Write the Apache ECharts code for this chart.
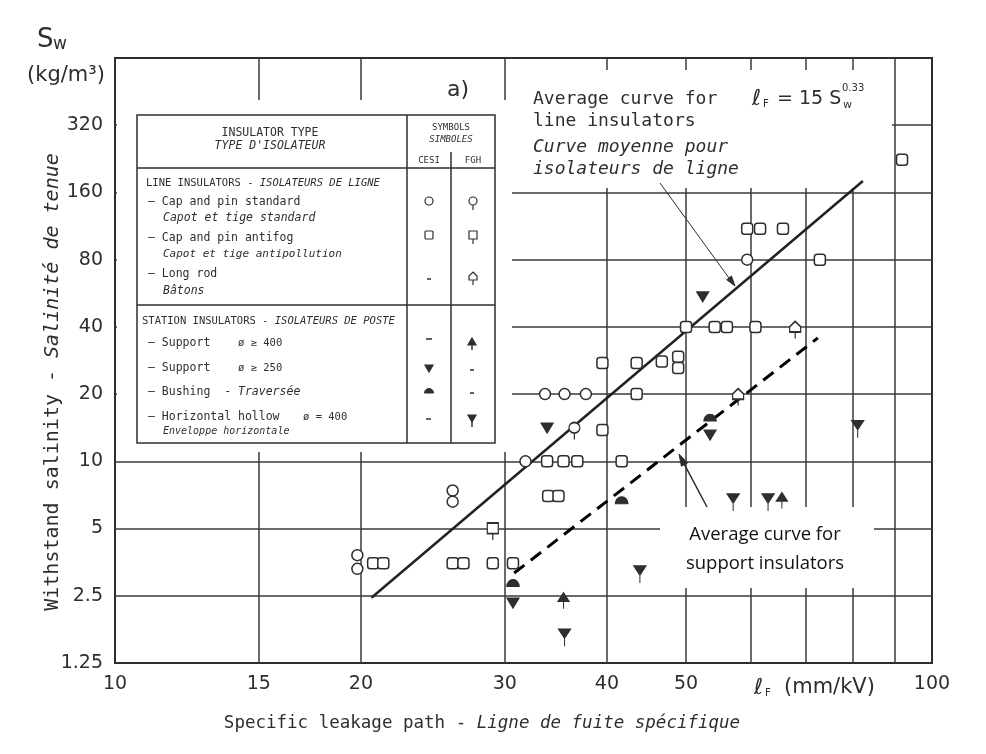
<!DOCTYPE html>
<html>
<head>
<meta charset="utf-8">
<title>Withstand salinity - specific leakage path</title>
<script src="https://cdn.jsdelivr.net/npm/echarts@6.0.0/dist/echarts.min.js"></script>
<style>
  html, body { margin: 0; padding: 0; background: #fff; }
  #chart { width: 986px; height: 754px; }
</style>
</head>
<body>
<div id="chart"></div>
<script>
"use strict";

// grid lines and tick labels
var xGridValues = [15, 20, 30, 40, 50, 60, 70, 80, 90];
var xLabelValues = [10, 15, 20, 30, 40, 50, 100];
var yGridValues = [2.5, 5, 10, 20, 40, 80, 160, 320];
var yLabelValues = [1.25, 2.5, 5, 10, 20, 40, 80, 160, 320];

// points: [specific leakage path (mm/kV), withstand salinity (kg/m3)]
// line insulators
var capPinStdCesi = [[19.8, 3.8], [19.8, 3.3], [25.9, 7.4], [25.9, 6.6], [31.8, 10],
  [33.6, 20], [35.5, 20], [37.7, 20], [59.4, 80]];
var capPinStdFgh = [[36.5, 14.1]];
var capPinAntifogCesi = [[20.7, 3.5], [21.3, 3.5], [25.9, 3.5], [26.7, 3.5], [29.0, 3.5], [30.7, 3.5],
  [33.9, 7], [34.9, 7], [33.8, 10], [35.4, 10], [36.8, 10], [41.7, 10], [39.5, 13.8], [43.5, 20],
  [39.5, 27.6], [43.5, 27.6], [46.7, 28], [48.9, 29.4], [48.9, 26.2],
  [50, 40], [54.2, 40], [56.1, 40], [60.8, 40], [72.9, 80],
  [59.4, 110], [61.6, 110], [65.7, 110], [91.9, 224]];
var capPinAntifogFgh = [[29.0, 5]];
var longRodFgh = [[57.9, 20], [68.0, 40]];
// station insulators
var support400Fgh = [[35.4, 2.44], [65.5, 6.85]];
var support250Cesi = [[30.7, 2.32], [33.8, 14.1], [53.5, 13.1], [52.4, 54.5]];
var bushingCesi = [[30.7, 2.85], [41.7, 6.7], [53.5, 15.7]];
var horizHollowFgh = [[35.5, 1.7], [43.9, 3.26], [57.1, 6.85], [63.0, 6.85], [81.1, 14.6]];

// average curves
var lineAvgCurve = [[20.6, 2.45], [82.3, 180]];
var supportAvgCurve = [[30.8, 3.16], [72.5, 35.7]];

var INK = "#2e2e2e";
var FONT = "DejaVu Sans";
var MONO = "DejaVu Sans Mono";

var PATHS = {
  circleStem: "M5,0 A5,5 0 1,1 5,10 A5,5 0 1,1 5,0 Z M5,10 L5,16",
  squareStem: "M0,0 L10,0 L10,10 L0,10 Z M5,10 L5,16",
  rodStem: "M5,0 L10,5 L10,10 L0,10 L0,5 Z M5,10 L5,16",
  triUpStem: "M5,0 L10,8 L0,8 Z M5,8 L5,15",
  triDownStem: "M0,0 L10,0 L5,8 Z M5,8 L5,15",
  triDown: "M0,0 L10,0 L5,8 Z",
  dome: "M0,6 A5,5 0 0,1 10,6 Z"
};

function scatter(name, data, symbol, size, offset, filled) {
  return {
    name: name,
    type: "scatter",
    data: data,
    symbol: symbol,
    symbolSize: size,
    symbolOffset: offset || [0, 0],
    itemStyle: {
      color: filled ? INK : "#fff",
      borderColor: INK,
      borderWidth: filled ? 1.2 : 1.5,
      opacity: 1
    },
    emphasis: { disabled: true },
    z: 4
  };
}

// ---------- annotations / legend table ----------
var els = [];

function txt(x, y, s, size, opt) {
  opt = opt || {};
  els.push({
    type: "text", x: x, y: y, z: 5, rotation: opt.rotation || 0,
    style: {
      text: s, fontSize: size, fontFamily: opt.family || FONT,
      fontStyle: opt.italic ? "italic" : "normal",
      fill: opt.color || INK, align: opt.align || "left", verticalAlign: "middle",
      rich: opt.rich
    }
  });
}

function ln(x1, y1, x2, y2, w) {
  els.push({ type: "line", z: 5, shape: { x1: x1, y1: y1, x2: x2, y2: y2 },
    style: { stroke: INK, lineWidth: w || 1.5 } });
}

function whiteBox(x, y, w, h) {
  els.push({ type: "rect", z: 1, shape: { x: x, y: y, width: w, height: h },
    style: { fill: "#fff" } });
}

function poly(pts, hx, hy, filled) {
  els.push({ type: "polygon", z: 5,
    shape: { points: pts.map(function (p) { return [hx + p[0], hy + p[1]]; }) },
    style: { fill: filled ? INK : "#fff", stroke: INK, lineWidth: 1.2 } });
}

// legend symbols, drawn around the centre of the head
function sym(key, hx, hy) {
  if (key === "circleStem") {
    els.push({ type: "circle", z: 5, shape: { cx: hx, cy: hy, r: 4 }, style: { fill: "#fff", stroke: INK, lineWidth: 1.2 } });
    ln(hx, hy + 4, hx, hy + 9, 1.2);
  } else if (key === "squareStem") {
    els.push({ type: "rect", z: 5, shape: { x: hx - 4, y: hy - 4, width: 8, height: 8 }, style: { fill: "#fff", stroke: INK, lineWidth: 1.2 } });
    ln(hx, hy + 4, hx, hy + 9, 1.2);
  } else if (key === "rodStem") {
    poly([[0, -5], [4, -1], [4, 3], [-4, 3], [-4, -1]], hx, hy, false);
    ln(hx, hy + 3, hx, hy + 8, 1.2);
  } else if (key === "triUpStem") {
    poly([[0, -4], [4, 3], [-4, 3]], hx, hy, true);
    ln(hx, hy + 3, hx, hy + 8, 1.4);
  } else if (key === "triDown") {
    poly([[-4, -3], [4, -3], [0, 4]], hx, hy, true);
  } else if (key === "triDownStem") {
    poly([[-4, -3], [4, -3], [0, 4]], hx, hy, true);
    ln(hx, hy + 4, hx, hy + 9, 1.4);
  } else if (key === "dome") {
    els.push({ type: "sector", z: 5,
      shape: { cx: hx, cy: hy + 2, r0: 0, r: 4.5, startAngle: Math.PI, endAngle: Math.PI * 2, clockwise: true },
      style: { fill: INK, stroke: INK, lineWidth: 1 } });
  }
}

function arrowHead(pts) {
  els.push({ type: "polygon", z: 5, shape: { points: pts }, style: { fill: INK, stroke: INK, lineWidth: 1 } });
}

// white areas that hide the grid
whiteBox(117, 100, 395, 352);
whiteBox(507, 70, 385, 118);
whiteBox(660, 507, 214, 81);

// legend table
els.push({ type: "rect", z: 5, shape: { x: 137, y: 115, width: 358, height: 328 },
  style: { fill: "#fff", stroke: INK, lineWidth: 1.5 } });
ln(137, 168, 495, 168);
ln(137, 305, 495, 305);
ln(407, 115, 407, 443);
ln(451, 152, 451, 443);

var small = 10.5;
var richIt = {
  n: { fontSize: small, fontFamily: MONO, fill: INK },
  i: { fontSize: small, fontFamily: MONO, fill: INK, fontStyle: "italic" }
};
function tt(x, y, s, opt) {
  opt = opt || {};
  opt.family = MONO;
  txt(x, y, s, opt.size || small, opt);
}
tt(270, 133, "INSULATOR TYPE", { align: "center", size: 11.5 });
tt(270, 146, "TYPE D'ISOLATEUR", { align: "center", italic: true, size: 11.5 });
tt(451, 128, "SYMBOLS", { align: "center", size: 9 });
tt(451, 140, "SIMBOLES", { align: "center", italic: true, size: 9 });
tt(429, 161, "CESI", { align: "center", size: 9 });
tt(473, 161, "FGH", { align: "center", size: 9 });

tt(146, 183, "{n|LINE INSULATORS - }{i|ISOLATEURS DE LIGNE}", { rich: richIt });
tt(148, 202, "– Cap and pin standard", { size: 11.5 });
tt(163, 218, "Capot et tige standard", { italic: true, size: 11.5 });
tt(148, 238, "– Cap and pin antifog", { size: 11.5 });
tt(163, 254, "Capot et tige antipollution", { italic: true, size: 11 });
tt(148, 274, "– Long rod", { size: 11.5 });
tt(163, 291, "Bâtons", { italic: true, size: 11.5 });

tt(142, 321, "{n|STATION INSULATORS - }{i|ISOLATEURS DE POSTE}", { rich: richIt });
tt(148, 343, "– Support", { size: 11.5 });
tt(238, 343, "ø ≥ 400", { size: 10.5 });
tt(148, 368, "– Support", { size: 11.5 });
tt(238, 368, "ø ≥ 250", { size: 10.5 });
tt(148, 392, "{n|– Bushing  - }{i|Traversée}", {
  rich: {
    n: { fontSize: 11.5, fontFamily: MONO, fill: INK },
    i: { fontSize: 11.5, fontFamily: MONO, fill: INK, fontStyle: "italic" }
  }
});
tt(148, 417, "– Horizontal hollow", { size: 11.5 });
tt(303, 417, "ø = 400", { size: 10.5 });
tt(163, 431, "Enveloppe horizontale", { italic: true, size: 10 });

// legend symbols
els.push({ type: "circle", z: 5, shape: { cx: 429, cy: 201, r: 4 }, style: { fill: "#fff", stroke: INK, lineWidth: 1.2 } });
sym("circleStem", 473, 201);
els.push({ type: "rect", z: 5, shape: { x: 425, y: 231, width: 8, height: 8, r: 1 }, style: { fill: "#fff", stroke: INK, lineWidth: 1.2 } });
sym("squareStem", 473, 235);
ln(427, 279, 431, 279, 1.5);
sym("rodStem", 473, 277);
ln(426, 339, 432, 339, 1.5);
sym("triUpStem", 472, 342);
sym("triDown", 429, 368);
ln(470, 370, 474, 370, 1.5);
sym("dome", 429, 391);
ln(470, 393, 474, 393, 1.5);
ln(426, 419, 431, 419, 1.5);
sym("triDownStem", 472, 418);

// figure label
txt(447, 90, "a)", 22);

// upper annotation (line insulators)
txt(533, 99, "Average curve for", 18, { family: MONO });
txt(533, 121, "line insulators", 18, { family: MONO });
txt(533, 147, "Curve moyenne pour", 18, { italic: true, family: MONO });
txt(533, 169, "isolateurs de ligne", 18, { italic: true, family: MONO });
txt(752, 99, "ℓ", 22, { italic: true });
txt(763, 104, "F", 10);
txt(777, 99, "= 15 S", 19);
txt(843, 105, "w", 11);
txt(842, 88, "0.33", 10);
ln(660, 183, 729, 278, 1);
arrowHead([[735, 286], [726.7, 279.7], [731.5, 276.1]]);

// lower annotation (support insulators)
txt(765, 535, "Average curve for", 18.5, { align: "center", family: "Open Sans", color: "#111" });
txt(765, 564, "support insulators", 18.5, { align: "center", family: "Open Sans", color: "#111" });
ln(707, 507, 684.5, 464.6, 1.5);
arrowHead([[679, 454], [687.6, 463.0], [681.4, 466.2]]);

// axis titles
txt(37, 40, "S", 26);
txt(53, 45, "w", 17);
txt(66, 76, "(kg/m³)", 21, { align: "center" });
txt(53, 382, "{n|Withstand salinity - }{i|Salinité de tenue}", 20, {
  align: "center", rotation: Math.PI / 2,
  rich: { n: { fontSize: 20, fontFamily: MONO, fill: INK }, i: { fontSize: 20, fontFamily: MONO, fill: INK, fontStyle: "italic" } }
});
txt(482, 723, "{n|Specific leakage path - }{i|Ligne de fuite spécifique}", 17.5, {
  align: "center",
  rich: { n: { fontSize: 17.5, fontFamily: MONO, fill: INK }, i: { fontSize: 17.5, fontFamily: MONO, fill: INK, fontStyle: "italic" } }
});
txt(754, 688, "ℓ", 22, { italic: true });
txt(765, 693, "F", 10);
txt(784, 688, "(mm/kV)", 21);

var chart = echarts.init(document.getElementById("chart"));

var option = {
  animation: false,
  backgroundColor: "#fff",
  grid: {
    left: 115, right: 54, top: 58, bottom: 91,
    show: true, borderColor: INK, borderWidth: 2
  },
  xAxis: {
    type: "log", logBase: 10, min: 10, max: 100,
    axisLine: { show: false },
    axisTick: { show: false, customValues: xGridValues },
    splitLine: { show: true, lineStyle: { color: "#3a3a3a", width: 1.5 } },
    axisLabel: {
      customValues: xLabelValues, margin: 12,
      fontSize: 19, fontFamily: FONT, color: INK,
      formatter: function (v) { return String(v); }
    }
  },
  yAxis: {
    type: "log", logBase: 2, min: 1.25, max: 640,
    axisLine: { show: false },
    axisTick: { show: false, customValues: yGridValues },
    splitLine: { show: true, lineStyle: { color: "#3a3a3a", width: 1.5 } },
    axisLabel: {
      customValues: yLabelValues, margin: 12,
      fontSize: 19, fontFamily: FONT, color: INK,
      formatter: function (v) { return String(v); }
    }
  },
  graphic: { elements: els },
  series: [
    {
      name: "Average curve for line insulators",
      type: "line", data: lineAvgCurve, symbol: "none", z: 3,
      lineStyle: { color: "#222", width: 2.5 }
    },
    {
      name: "Average curve for support insulators",
      type: "line", data: supportAvgCurve, symbol: "none", z: 3,
      lineStyle: { color: "#000", width: 3, type: [13, 8] }
    },
    scatter("Cap and pin standard (CESI)", capPinStdCesi, "circle", 11),
    scatter("Cap and pin standard (FGH)", capPinStdFgh, "path://" + PATHS.circleStem, [11, 17], [0, 3]),
    scatter("Cap and pin antifog (CESI)", capPinAntifogCesi, "roundRect", 11),
    scatter("Cap and pin antifog (FGH)", capPinAntifogFgh, "path://" + PATHS.squareStem, [11, 17], [0, 3]),
    scatter("Long rod (FGH)", longRodFgh, "path://" + PATHS.rodStem, [11, 17], [0, 3]),
    scatter("Support ø≥400 (FGH)", support400Fgh, "path://" + PATHS.triUpStem, [11, 16], [0, 2.5], true),
    scatter("Support ø≥250 (CESI)", support250Cesi, "path://" + PATHS.triDown, [12, 10], [0, 0], true),
    scatter("Bushing (CESI)", bushingCesi, "path://" + PATHS.dome, [12, 7], [0, 0], true),
    scatter("Horizontal hollow ø=400 (FGH)", horizHollowFgh, "path://" + PATHS.triDownStem, [12, 17], [0, 4.5], true)
  ]
};

chart.setOption(option);
</script>
</body>
</html>
